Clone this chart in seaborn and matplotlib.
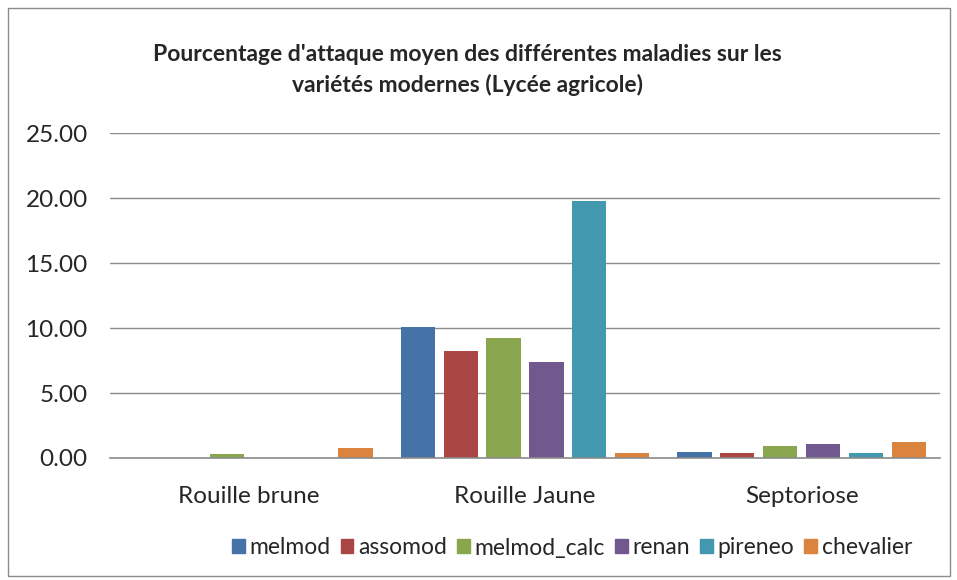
import pandas as pd
import matplotlib.pyplot as plt
import matplotlib.patches as mpatches
import seaborn as sns

categories = ["Rouille brune", "Rouille Jaune", "Septoriose"]
varietes = ["melmod", "assomod", "melmod_calc", "renan", "pireneo", "chevalier"]
melmod = [0.0, 10.1, 0.5]
assomod = [0.0, 8.2, 0.4]
melmod_calc = [0.3, 9.2, 0.9]
renan = [0.0, 7.4, 1.1]
pireneo = [0.0, 19.8, 0.4]
chevalier = [0.8, 0.4, 1.2]
couleurs = ["#4572A7", "#AA4643", "#89A54E", "#71588F", "#4198AF", "#DB843D"]

series = [melmod, assomod, melmod_calc, renan, pireneo, chevalier]
rows = []
for nom, vals in zip(varietes, series):
    for cat, v in zip(categories, vals):
        rows.append({"maladie": cat, "variete": nom, "valeur": v})
data = pd.DataFrame(rows)

sns.set_style("white")
plt.rcParams["font.family"] = ["Lato", "DejaVu Sans"]

fig = plt.figure(figsize=(9.57, 5.8), dpi=100)
ax = fig.add_axes([110 / 957, 1 - 458 / 580, 830 / 957, 325 / 580])

sns.barplot(data=data, x="maladie", y="valeur", hue="variete", order=categories,
            hue_order=varietes, palette=couleurs, width=0.93, gap=0.2,
            ax=ax, legend=False, edgecolor="none", saturation=1)

ax.set_ylim(0, 25)
ax.set_yticks([0, 5, 10, 15, 20, 25])
ax.set_yticklabels([f"{t:.2f}" for t in ax.get_yticks()], fontsize=17.5)
ax.tick_params(axis="x", labelsize=17.5, length=0, pad=20)
ax.tick_params(axis="y", length=0, pad=16)
ax.set_xlim(-0.5, 2.5)
ax.set_xlabel("")
ax.set_ylabel("")
ax.grid(axis="y", color="#8c8c8c", linewidth=1)
ax.set_axisbelow(True)
for s in ["top", "right", "left"]:
    ax.spines[s].set_visible(False)
ax.spines["bottom"].set_color("#8c8c8c")
ax.spines["bottom"].set_linewidth(1.2)

fig.text(467 / 957, 1 - 70 / 580,
         "Pourcentage d'attaque moyen des différentes maladies sur les\nvariétés modernes (Lycée agricole)",
         ha="center", va="center", fontsize=16.5, fontweight="bold", linespacing=1.45)

handles = [mpatches.Patch(color=c, label=n) for c, n in zip(couleurs, varietes)]
fig.legend(handles=handles, loc="center", bbox_to_anchor=(572 / 957, 1 - 548 / 580),
           ncol=6, frameon=False, fontsize=16.5, handlelength=0.55, handleheight=0.55,
           handletextpad=0.2, columnspacing=0.45, borderpad=0.2)

border = mpatches.Rectangle((8 / 957, 4 / 580), 942 / 957, 568 / 580,
                            transform=fig.transFigure, fill=False,
                            edgecolor="#8c8c8c", linewidth=1)
fig.patches.append(border)

fig.savefig("out.png", dpi=100)
